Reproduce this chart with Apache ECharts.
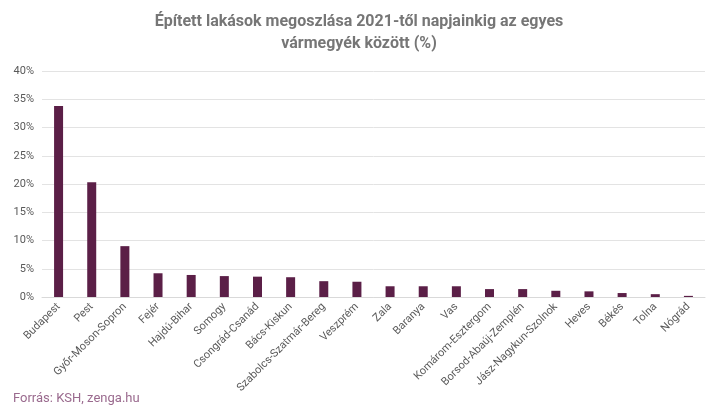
<!DOCTYPE html>
<html>
<head>
<meta charset="utf-8">
<script src="https://cdn.jsdelivr.net/npm/echarts@6/dist/echarts.min.js"></script>
<style>html,body{margin:0;padding:0;background:#fff}#chart{width:718px;height:416px}</style>
</head>
<body>
<div id="chart"></div>
<script>
// Data
var counties = ['Budapest', 'Pest', 'Győr-Moson-Sopron', 'Fejér', 'Hajdú-Bihar', 'Somogy',
    'Csongrád-Csanád', 'Bács-Kiskun', 'Szabolcs-Szatmár-Bereg', 'Veszprém', 'Zala', 'Baranya',
    'Vas', 'Komárom-Esztergom', 'Borsod-Abaúj-Zemplén', 'Jász-Nagykun-Szolnok', 'Heves',
    'Békés', 'Tolna', 'Nógrád'];
var shares = [33.8, 20.3, 9.0, 4.2, 3.9, 3.7, 3.6, 3.5, 2.8, 2.7, 1.9, 1.9, 1.9, 1.4, 1.4, 1.1, 1.0, 0.7, 0.5, 0.2];

var chart = echarts.init(document.getElementById('chart'));

chart.setOption({
    animation: false,
    textStyle: { fontFamily: 'Roboto, sans-serif' },
    title: [{
        text: 'Épített lakások megoszlása 2021-től napjainkig az egyes\nvármegyék között (%)',
        left: 'center',
        top: 6,
        textStyle: { fontSize: 16, fontWeight: 'bold', color: '#767676', lineHeight: 22 }
    }, {
        text: 'Forrás: KSH, zenga.hu',
        left: 8,
        bottom: 6,
        textStyle: { fontSize: 13, fontWeight: 'normal', color: '#9a6a8e' }
    }],
    grid: { left: 42, right: 13, top: 71, bottom: 119 },
    xAxis: {
        type: 'category',
        data: counties,
        axisTick: { show: false },
        axisLine: { lineStyle: { color: '#d9d9d9' } },
        axisLabel: { rotate: 45, color: '#595959', fontSize: 11, interval: 0, margin: 8 }
    },
    yAxis: {
        type: 'value',
        min: 0,
        max: 40,
        interval: 5,
        axisLabel: { formatter: '{value}%', color: '#595959', fontSize: 11 },
        splitLine: { lineStyle: { color: '#e3e3e3' } }
    },
    series: [{
        type: 'bar',
        data: shares,
        barWidth: 9,
        itemStyle: { color: '#5b1f47' }
    }]
});
</script>
</body>
</html>
